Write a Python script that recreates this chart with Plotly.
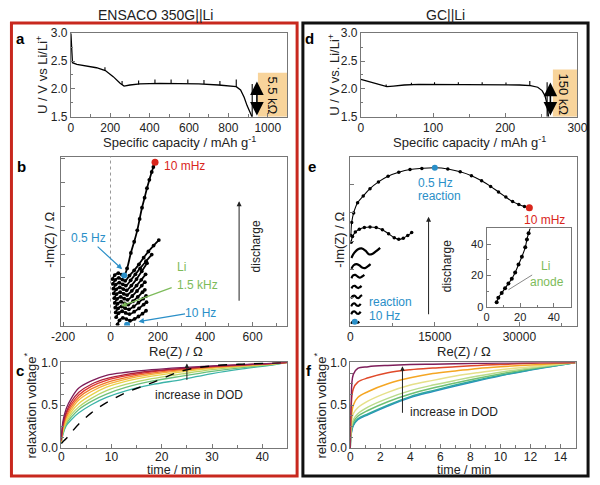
import plotly.graph_objects as go

W, H = 600, 485
FONT = "Arial, Liberation Sans, sans-serif"

# ---------------- DATA ----------------
# panel a : ENSACO discharge curve
cap_a = [0, 3, 8, 30, 80, 130, 175, 215, 250, 270, 300, 350, 450, 550, 650, 750, 840, 862, 880, 895, 910, 920]
volt_a = [3.0, 2.7, 2.47, 2.44, 2.41, 2.38, 2.33, 2.22, 2.10, 2.05, 2.07, 2.09, 2.10, 2.10, 2.09, 2.07, 2.04, 1.98, 1.85, 1.70, 1.58, 1.50]
spike_cap_a = [173, 260, 344, 427, 509, 594, 676, 757, 840, 921]
spike_lo_a = [2.33, 2.07, 2.08, 2.10, 2.10, 2.10, 2.09, 2.07, 2.04, 1.50]
spike_hi_a = [2.39, 2.14, 2.15, 2.17, 2.17, 2.17, 2.16, 2.14, 2.17, 2.09]

# panel d : GC discharge curve
cap_d = [0, 8, 18, 28, 36, 45, 60, 80, 100, 130, 160, 190, 220, 235, 245, 251, 255, 257.5, 259, 260]
volt_d = [2.17, 2.14, 2.10, 2.06, 2.04, 2.05, 2.07, 2.08, 2.08, 2.08, 2.08, 2.075, 2.07, 2.06, 2.03, 1.97, 1.88, 1.75, 1.60, 1.50]
spike_cap_d = [35, 70, 102, 135, 168, 201, 234, 258]
spike_lo_d = [2.04, 2.07, 2.08, 2.08, 2.08, 2.075, 2.06, 1.50]
spike_hi_d = [2.08, 2.11, 2.12, 2.12, 2.12, 2.115, 2.14, 2.12]

# panel b : Nyquist ENSACO (bottom -> top, along discharge)
b_re = [
    [30, 38, 52, 67, 82, 102, 118, 135, 150],
    [24, 34, 49, 64, 80, 100, 120, 140, 152],
    [22, 32, 47, 62, 78, 98, 118, 138, 150],
    [20, 30, 45, 60, 75, 95, 115, 135, 145],
    [18, 28, 43, 58, 72, 92, 112, 132, 145],
    [16, 26, 41, 56, 70, 90, 110, 130, 148],
    [14, 24, 39, 54, 68, 88, 110, 132, 154],
    [12, 22, 37, 52, 65, 85, 105, 125, 150, 174],
    [10, 20, 35, 50, 62, 80, 100, 120, 140, 160, 182, 204],
    [8, 18, 33, 48, 58, 70, 86, 100, 113, 123, 133, 144, 154, 164, 174, 181, 188],
]
b_im = [
    [5, 22, 32, 27, 20, 28, 38, 50, 62],
    [35, 52, 60, 53, 48, 58, 72, 88, 98],
    [55, 72, 80, 73, 68, 80, 96, 113, 124],
    [75, 92, 100, 93, 88, 102, 120, 140, 150],
    [95, 112, 120, 113, 108, 124, 145, 168, 182],
    [115, 132, 140, 133, 128, 146, 168, 192, 215],
    [135, 152, 160, 153, 148, 168, 195, 228, 262],
    [155, 172, 180, 173, 168, 190, 215, 240, 270, 298],
    [175, 192, 200, 193, 188, 210, 232, 257, 285, 311, 336, 359],
    [195, 212, 220, 214, 210, 240, 305, 352, 400, 448, 495, 537, 577, 612, 645, 666, 686],
]
b_pt_05Hz = (58, 210)
b_pt_10mHz = (188, 686)
b_pt_10Hz = (70, 3)

# panel e : Nyquist GC (bottom -> top)
e_re = [
    [150, 400, 700, 1000, 1300, 1600],
    [150, 450, 800, 1150, 1500, 1850],
    [150, 450, 800, 1150, 1500, 1850],
    [150, 450, 800, 1150, 1500, 1850, 2100],
    [200, 500, 800, 1100, 1400, 1700, 2000],
    [200, 500, 900, 1300, 1700, 2100, 2500],
    [200, 600, 1100, 1600, 2100, 2600, 3100, 3600],
    [200, 700, 1300, 2000, 2700, 3300, 3900, 4600, 5300],
    [150, 400, 900, 1600, 2500, 3500, 4600, 5700, 6800, 7800, 8600, 9400, 10200, 10900],
    [100, 250, 600, 1300, 2300, 3500, 5000, 6700, 8600, 10600, 12700, 15000, 17300,
     19500, 21500, 23300, 24900, 26300, 27600, 28800, 29900, 30900, 31770],
]
e_im = [
    [300, 650, 750, 550, 500, 700],
    [2000, 2450, 2500, 2150, 2100, 2450],
    [3400, 3850, 3900, 3550, 3500, 3850],
    [4800, 5250, 5300, 4950, 4900, 5250, 5400],
    [6600, 7000, 7050, 6800, 6650, 6800, 7050],
    [8400, 8900, 9000, 8700, 8500, 8700, 9000],
    [10100, 10700, 10900, 10700, 10300, 10200, 10500, 10900],
    [12000, 12900, 13500, 13700, 13300, 12650, 12700, 13200, 13800],
    [14800, 15800, 16600, 17100, 17400, 17500, 17400, 17000, 16300, 15600, 15300, 15500, 16000, 16500],
    [16000, 18300, 20000, 21800, 23000, 24300, 25500, 26500, 27200, 27700, 27900, 28000, 27800,
     27300, 26600, 25700, 24700, 23700, 22800, 22000, 21500, 21150, 20900],
]
e_pt_05Hz = (15000, 28000)
e_pt_10mHz = (31770, 20900)
e_pt_10Hz = (800, 690)

# inset of e (Li anode)
ins_re = [6, 7, 9, 11, 13, 15, 17, 19, 21, 23, 24, 25, 26.5]
ins_im = [3, 6, 9, 12, 15, 18, 22, 27, 32, 38, 43, 47, 52]

# panel c : relaxation ENSACO
t_c = [0, 0.3, 1, 2, 3.5, 6, 9, 13, 18, 24, 30, 36, 42, 45]
c_curves = [
    [0.10, 0.30, 0.46, 0.58, 0.70, 0.785, 0.85, 0.885, 0.915, 0.94, 0.96, 0.975, 0.99, 1.0],
    [0.09, 0.27, 0.42, 0.54, 0.65, 0.745, 0.81, 0.86, 0.90, 0.93, 0.955, 0.972, 0.99, 1.0],
    [0.08, 0.25, 0.40, 0.51, 0.62, 0.72, 0.79, 0.845, 0.89, 0.925, 0.95, 0.97, 0.988, 1.0],
    [0.08, 0.23, 0.37, 0.48, 0.59, 0.69, 0.765, 0.825, 0.875, 0.915, 0.945, 0.966, 0.986, 1.0],
    [0.07, 0.21, 0.35, 0.45, 0.56, 0.66, 0.74, 0.805, 0.86, 0.905, 0.94, 0.963, 0.985, 1.0],
    [0.07, 0.19, 0.32, 0.42, 0.52, 0.62, 0.71, 0.78, 0.84, 0.89, 0.93, 0.958, 0.982, 1.0],
    [0.06, 0.18, 0.30, 0.39, 0.48, 0.58, 0.67, 0.745, 0.81, 0.865, 0.915, 0.95, 0.978, 1.0],
    [0.06, 0.16, 0.28, 0.36, 0.45, 0.545, 0.63, 0.71, 0.78, 0.84, 0.895, 0.94, 0.974, 1.0],
    [0.05, 0.15, 0.26, 0.33, 0.41, 0.505, 0.59, 0.67, 0.74, 0.80, 0.87, 0.925, 0.97, 1.0],
]
c_colors = ['#7E1E5A', '#B0203A', '#E03A2F', '#F07A2A', '#F6B03A', '#E8D24A', '#B5D56A', '#6CC07A', '#3BB3A8']
c_dashed = [0.05, 0.07, 0.11, 0.18, 0.28, 0.41, 0.53, 0.65, 0.76, 0.90, 0.96, 0.98, 0.995, 1.0]

# panel f : relaxation GC
t_f = [0, 0.05, 0.2, 0.5, 1.2, 2.5, 4, 5.5, 7, 8.5, 10, 12, 14, 15]
f_curves = [
    [0, 0.50, 0.86, 0.93, 0.95, 0.965, 0.975, 0.98, 0.985, 0.99, 0.993, 0.997, 1.0, 1.0],
    [0, 0.45, 0.69, 0.77, 0.82, 0.88, 0.915, 0.935, 0.95, 0.965, 0.975, 0.99, 0.997, 1.0],
    [0, 0.30, 0.50, 0.59, 0.66, 0.75, 0.82, 0.87, 0.90, 0.93, 0.95, 0.97, 0.99, 1.0],
    [0, 0.25, 0.40, 0.47, 0.55, 0.65, 0.735, 0.79, 0.84, 0.88, 0.915, 0.95, 0.985, 1.0],
    [0, 0.20, 0.33, 0.40, 0.48, 0.58, 0.67, 0.735, 0.79, 0.84, 0.885, 0.935, 0.98, 1.0],
    [0, 0.18, 0.30, 0.37, 0.44, 0.54, 0.63, 0.70, 0.76, 0.815, 0.865, 0.925, 0.975, 1.0],
    [0, 0.16, 0.27, 0.34, 0.40, 0.50, 0.60, 0.67, 0.735, 0.795, 0.85, 0.915, 0.97, 1.0],
    [0, 0.15, 0.26, 0.33, 0.39, 0.49, 0.59, 0.66, 0.725, 0.785, 0.845, 0.91, 0.97, 1.0],
]
f_colors = ['#7E1E5A', '#E04A2A', '#F5A623', '#E6E08A', '#B9DB8A', '#6FBF73', '#2FA8A0', '#2A8FC0']

# ---------------- FIGURE ----------------
fig = go.Figure()


def seg(xs, lo, hi):
    X, Y = [], []
    for x, a, b in zip(xs, lo, hi):
        X += [x, x, None]
        Y += [a, b, None]
    return X, Y


def add_line(x, y, xa, ya, color='black', width=1.3, dash=None, mode='lines', msize=3, shape='linear'):
    fig.add_trace(go.Scatter(x=x, y=y, xaxis=xa, yaxis=ya, mode=mode,
                             line=dict(color=color, width=width, dash=dash, shape=shape),
                             marker=dict(color=color, size=msize),
                             showlegend=False, hoverinfo='skip'))


# a
add_line(cap_a, volt_a, 'x', 'y', width=1.3)
sx, sy = seg(spike_cap_a, spike_lo_a, spike_hi_a)
add_line(sx, sy, 'x', 'y', width=1.1)
# d
add_line(cap_d, volt_d, 'x2', 'y2', width=1.3)
sx, sy = seg(spike_cap_d, spike_lo_d, spike_hi_d)
add_line(sx, sy, 'x2', 'y2', width=1.1)
# b
for xs, ys in zip(b_re, b_im):
    add_line(xs, ys, 'x3', 'y3', width=1.8, mode='lines+markers', msize=3.8, shape='spline')
fig.add_trace(go.Scatter(x=[b_pt_05Hz[0], b_pt_10Hz[0]], y=[b_pt_05Hz[1], b_pt_10Hz[1]], xaxis='x3', yaxis='y3',
                         mode='markers', marker=dict(color='#2A8FC8', size=6), showlegend=False, hoverinfo='skip'))
fig.add_trace(go.Scatter(x=[b_pt_10mHz[0]], y=[b_pt_10mHz[1]], xaxis='x3', yaxis='y3',
                         mode='markers', marker=dict(color='#D9261C', size=7), showlegend=False, hoverinfo='skip'))
# e
for i, (xs, ys) in enumerate(zip(e_re, e_im)):
    if i >= 8:
        add_line(xs, ys, 'x4', 'y4', width=1.1, mode='lines+markers', msize=3.5, shape='spline')
    else:
        add_line(xs, ys, 'x4', 'y4', width=2.2, shape='spline')
fig.add_trace(go.Scatter(x=[e_pt_05Hz[0], e_pt_10Hz[0]], y=[e_pt_05Hz[1], e_pt_10Hz[1]], xaxis='x4', yaxis='y4',
                         mode='markers', marker=dict(color='#2A8FC8', size=6), showlegend=False, hoverinfo='skip'))
fig.add_trace(go.Scatter(x=[e_pt_10mHz[0]], y=[e_pt_10mHz[1]], xaxis='x4', yaxis='y4',
                         mode='markers', marker=dict(color='#D9261C', size=7), showlegend=False, hoverinfo='skip'))
# inset
add_line(ins_re, ins_im, 'x7', 'y7', width=1.1, mode='lines+markers', msize=4, shape='spline')
# c
for ys, col in zip(c_curves[::-1], c_colors[::-1]):
    add_line(t_c, ys, 'x5', 'y5', color=col, width=1.3, shape='spline')
add_line(t_c, c_dashed, 'x5', 'y5', color='black', width=1.4, dash='dash', shape='spline')
# f
for ys, col in zip(f_curves[::-1], f_colors[::-1]):
    add_line(t_f, ys, 'x6', 'y6', color=col, width=1.5, shape='spline')


# ---------------- AXES ----------------
def dx(x0, x1):
    return [x0 / W, x1 / W]


def dy(y0, y1):
    return [1 - y1 / H, 1 - y0 / H]


AX = dict(showline=True, mirror=True, linecolor='#777', linewidth=1, ticks='inside', ticklen=4,
          tickcolor='#777', showgrid=False, zeroline=False,
          tickfont=dict(family=FONT, size=12, color='#222'))


def ax(domain, rng, anchor, **kw):
    d = dict(AX)
    d.update(domain=domain, range=rng, anchor=anchor)
    d.update(kw)
    return d


MIN = dict(ticks='inside', ticklen=2.5, tickcolor='#777')

fig.update_layout(
    xaxis=ax(dx(63, 287), [0, 1100], 'y', tickvals=[0, 200, 400, 600, 800, 1000],
             minor=dict(dtick=100, **MIN)),
    yaxis=ax(dy(27, 113), [1.5, 3.0], 'x', tickvals=[1.5, 2.0, 2.5, 3.0], ticktext=['1.5', '2.0', '2.5', '3.0'],
             minor=dict(dtick=0.25, **MIN)),
    xaxis2=ax(dx(363, 587), [0, 300], 'y2', tickvals=[0, 100, 200, 300],
              minor=dict(dtick=50, **MIN)),
    yaxis2=ax(dy(27, 113), [1.5, 3.0], 'x2', tickvals=[1.5, 2.0, 2.5, 3.0], ticktext=['1.5', '2.0', '2.5', '3.0'],
              minor=dict(dtick=0.25, **MIN)),
    xaxis3=ax(dx(53, 287), [-208, 747], 'y3', tickvals=[-200, 0, 200, 400, 600],
              ticktext=['-200', '0', '200', '400', '600'],
              minor=dict(dtick=100, **MIN)),
    yaxis3=ax(dy(154, 328), [0, 710], 'x3', dtick=100, tick0=0, showticklabels=False),
    xaxis4=ax(dx(352, 587), [0, 40300], 'y4', tickvals=[0, 15000, 30000], ticktext=['0', '15000', '30000'],
              minor=dict(dtick=7500, **MIN)),
    yaxis4=ax(dy(154, 328), [0, 30000], 'x4', dtick=5000, tick0=0, showticklabels=False),
    xaxis5=ax(dx(53, 287), [0, 45], 'y5', tickvals=[0, 10, 20, 30, 40], ticklabelstandoff=-2,
              minor=dict(dtick=5, **MIN)),
    yaxis5=ax(dy(366, 454), [0, 1.0], 'x5', tickvals=[0, 0.5, 1.0], ticktext=['0.0', '0.5', '1.0'],
              minor=dict(dtick=0.125, **MIN)),
    xaxis6=ax(dx(352, 585), [0, 15], 'y6', tickvals=[0, 2, 4, 6, 8, 10, 12, 14], ticklabelstandoff=-2,
              minor=dict(dtick=1, **MIN)),
    yaxis6=ax(dy(366, 454), [0, 1.0], 'x6', tickvals=[0, 0.5, 1.0], ticktext=['0.0', '0.5', '1.0'],
              minor=dict(dtick=0.125, **MIN)),
    xaxis7=ax(dx(493, 580), [0, 50], 'y7', tickvals=[0, 20, 40], tickfont=dict(family=FONT, size=11, color='#222'),
              minor=dict(dtick=10, ticks='inside', ticklen=2, tickcolor='#777')),
    yaxis7=ax(dy(228, 309), [0, 50], 'x7', tickvals=[0, 20, 40], tickfont=dict(family=FONT, size=11, color='#222'),
              minor=dict(dtick=10, ticks='inside', ticklen=2, tickcolor='#777')),
)


# ---------------- SHAPES ----------------
def px(x):
    return x / W


def py(y):
    return 1 - y / H


shapes = [
    dict(type='rect', xref='x', yref='y', x0=950, x1=1100, y0=1.5, y1=2.29, fillcolor='#F8D49B',
         line=dict(width=0), layer='below'),
    dict(type='rect', xref='x2', yref='y2', x0=266, x1=300, y0=1.5, y1=2.35, fillcolor='#F8D49B',
         line=dict(width=0), layer='below'),
    dict(type='line', xref='x3', yref='y3', x0=0, x1=0, y0=0, y1=710, line=dict(color='#999', width=1, dash='dot')),
    dict(type='rect', xref='paper', yref='paper', x0=px(1.5), x1=px(297), y0=py(483), y1=py(16.5),
         line=dict(color='#C8281E', width=3)),
    dict(type='rect', xref='paper', yref='paper', x0=px(303), x1=px(598), y0=py(483), y1=py(16.5),
         line=dict(color='#111', width=3)),
]
fig.update_layout(shapes=shapes)

# ---------------- ANNOTATIONS ----------------
ann = []


def txt(x, y, s, size=13, color='#222', angle=0, xanchor='center', bold=False):
    ann.append(dict(xref='paper', yref='paper', x=px(x), y=py(y), text=('<b>%s</b>' % s) if bold else s,
                    showarrow=False, textangle=angle, xanchor=xanchor, yanchor='middle',
                    font=dict(family=FONT, size=size, color=color)))


def arrow(x0, y0, x1, y1, color='#222', width=1, head=2, size=1.0, side='end'):
    ann.append(dict(xref='paper', yref='paper', x=px(x1), y=py(y1), ax=x0 - x1, ay=y0 - y1,
                    axref='pixel', ayref='pixel', showarrow=True, arrowhead=head, arrowsize=size,
                    arrowwidth=width, arrowcolor=color, arrowside=side, text=''))


# titles
txt(150, 8, 'ENSACO 350G||Li', size=14)
txt(450, 8, 'GC||Li', size=14)
# panel letters
for lab, x, y in [('a', 11, 32), ('b', 12, 164), ('c', 10, 374), ('d', 310, 32), ('e', 312, 164), ('f', 309, 374)]:
    txt(x, y, lab, size=15, color='#000', bold=True)
# axis titles
txt(175, 139, 'Specific capacity / mAh g<sup>-1</sup>')
txt(475, 139, 'Specific capacity / mAh g<sup>-1</sup>')
txt(33, 70, 'U / V vs Li/Li<sup>+</sup>', angle=-90)
txt(335, 70, 'U / V vs. Li/Li<sup>+</sup>', angle=-90)
txt(172, 355, 'Re(Z) / Ω')
txt(470, 355, 'Re(Z) / Ω')
txt(40, 240, '-Im(Z) / Ω', angle=-90)
txt(340, 240, '-Im(Z) / Ω', angle=-90)
txt(170, 477, 'time / min', size=12.5)
txt(470, 477, 'time / min', size=12.5)
txt(21, 410, 'relaxation voltage<sup>*</sup>', angle=-90)
txt(321, 410, 'relaxation voltage<sup>*</sup>', angle=-90)

# a / d boxes
txt(272, 91, '5.5 kΩ', size=13, color='#111', angle=90)
txt(573, 90, '150 kΩ', size=13, color='#111', angle=90)
ann.append(dict(xref='x', yref='y', x=945, y=1.52, ax=945, ay=2.16, axref='x', ayref='y', showarrow=True,
                arrowhead=2, arrowsize=1.7, arrowwidth=1.6, arrowcolor='#000', arrowside='end+start', text=''))
ann.append(dict(xref='x2', yref='y2', x=262.5, y=1.52, ax=262.5, ay=2.14, axref='x2', ayref='y2', showarrow=True,
                arrowhead=2, arrowsize=1.7, arrowwidth=1.6, arrowcolor='#000', arrowside='end+start', text=''))

# b annotations
BLUE = '#2A8FC8'
GREEN = '#7DBB5A'
RED = '#D9261C'
txt(157, 164, '10 mHz', size=12, color=RED, xanchor='left')
txt(81, 238, '0.5 Hz', size=12, color=BLUE)
arrow(90, 246, 116, 270, color=BLUE, width=1.2, size=0.9)
txt(177, 268, 'Li', size=12, color=GREEN)
txt(194, 286, '1.5 kHz', size=12, color=GREEN)
arrow(167, 289, 115, 308, color=GREEN, width=1.2, size=0.9)
txt(197, 315, '10 Hz', size=12, color=BLUE)
arrow(181, 316, 133, 324, color=BLUE, width=1.2, size=0.9)
txt(254, 247, 'discharge', size=12, color='#222', angle=-90)
arrow(237, 301, 237, 200, color='#222', width=1, size=1)

# e annotations
txt(420, 181, '0.5 Hz', size=12, color=BLUE, xanchor='left')
txt(420, 195, 'reaction', size=12, color=BLUE, xanchor='left')
txt(553, 219, '10 mHz', size=12, color=RED)
txt(452, 267, 'discharge', size=12, color='#222', angle=-90)
arrow(433, 315, 433, 216, color='#222', width=1, size=1)
txt(369, 304, 'reaction', size=12, color=BLUE, xanchor='left')
txt(369, 318, '10 Hz', size=12, color=BLUE, xanchor='left')
# inset labels
ann.append(dict(xref='x7', yref='y7', x=35, y=26, text='Li', showarrow=False,
                font=dict(family=FONT, size=12, color=GREEN)))
ann.append(dict(xref='x7', yref='y7', x=36, y=16, text='anode', showarrow=False,
                font=dict(family=FONT, size=12, color=GREEN)))
ann.append(dict(xref='x7', yref='y7', x=13, y=11, ax=28, ay=21, axref='x7', ayref='y7', showarrow=True,
                arrowhead=0, arrowwidth=1, arrowcolor='#888', text=''))

# c / f arrows + text
txt(195, 400, 'increase in DOD', size=12)
arrow(183, 385, 183, 367, color='#222', width=1, size=0.9)
txt(412, 417, 'increase in DOD', size=12, xanchor='left')
arrow(406, 418, 406, 370, color='#222', width=1, size=0.9)

fig.update_layout(annotations=ann)

fig.update_layout(width=W, height=H, margin=dict(l=0, r=0, t=0, b=0),
                  paper_bgcolor='white', plot_bgcolor='white',
                  font=dict(family=FONT, size=12, color='#222'), showlegend=False)

fig.write_html("out.html", config={'displayModeBar': False},
               post_script="document.body.style.margin='0px';document.body.style.padding='0px';")
